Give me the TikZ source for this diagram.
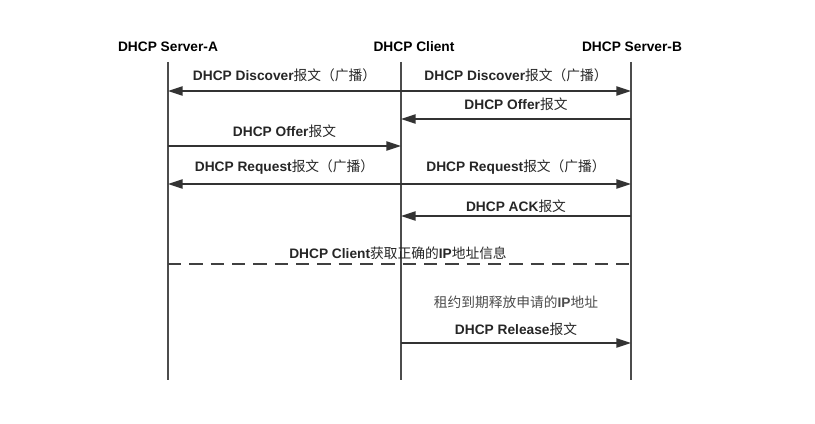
\documentclass[tikz,border=0pt]{standalone}
\usepackage{fontspec}
\setmainfont{Liberation Sans}
\newfontfamily\cjk{Noto Sans CJK SC}
\usetikzlibrary{arrows.meta}
\newcommand{\zh}[1]{{\cjk\mdseries #1}}
\tikzset{
    lifeline/.style={draw=black!70, line width=0.8pt},
    msg/.style={draw=black!80, line width=1.1pt, -{Triangle[length=11pt,width=7pt]}},
    msglabel/.style={font=\fontsize{10.3}{12}\selectfont\bfseries, text=black!85, inner sep=0pt},
    actor/.style={font=\fontsize{10.3}{12}\selectfont\bfseries, inner sep=0pt},
}
\begin{document}
\begin{tikzpicture}[x=0.75pt, y=-0.75pt]
        \useasboundingbox (0,0) rectangle (815,424);
        \node[actor] (srvA) at (168, 47) {DHCP Server-A};
        \node[actor] (client) at (414, 47) {DHCP Client};
        \node[actor] (srvB) at (632, 47) {DHCP Server-B};
        % one row of points on the three lifelines per message
        \foreach \n/\y in {top/62, 1/91, 2/119, 3/146, 4/184, 5/216, 6/264, 7/343, bot/380} {
            \coordinate (A\n) at (168, \y);
            \coordinate (C\n) at (401, \y);
            \coordinate (B\n) at (631, \y);
        }
        \draw[lifeline] (Atop) -- (Abot);
        \draw[lifeline] (Ctop) -- (Cbot);
        \draw[lifeline] (Btop) -- (Bbot);

        \draw[msg] (C1) -- (A1) node[msglabel, midway, above=6pt] (discA) {DHCP Discover\zh{报文（广播）}};
        \draw[msg] (C1) -- (B1) node[msglabel, midway, above=6pt] (discB) {DHCP Discover\zh{报文（广播）}};
        \draw[msg] (B2) -- (C2) node[msglabel, midway, above=5.5pt] (offerB) {DHCP Offer\zh{报文}};
        \draw[msg] (A3) -- (C3) node[msglabel, midway, above=5.5pt] (offerA) {DHCP Offer\zh{报文}};
        \draw[msg] (C4) -- (A4) node[msglabel, midway, above=6.5pt] (reqA) {DHCP Request\zh{报文（广播）}};
        \draw[msg] (C4) -- (B4) node[msglabel, midway, above=6.5pt] (reqB) {DHCP Request\zh{报文（广播）}};
        \draw[msg] (B5) -- (C5) node[msglabel, midway, above=2pt] (ack) {DHCP ACK\zh{报文}};
        \draw[draw=black!75, line width=1.1pt, dash pattern=on 10pt off 6pt] (A6) -- (B6);
        \node[msglabel] (gotip) at (398, 253) {DHCP Client\zh{获取正确的}IP\zh{地址信息}};
        \node[msglabel, text=black!70] (lease) at (516, 302) {\zh{租约到期释放申请的}IP\zh{地址}};
        \draw[msg] (C7) -- (B7) node[msglabel, midway, above=5pt] (rel) {DHCP Release\zh{报文}};
    \end{tikzpicture}
\end{document}
